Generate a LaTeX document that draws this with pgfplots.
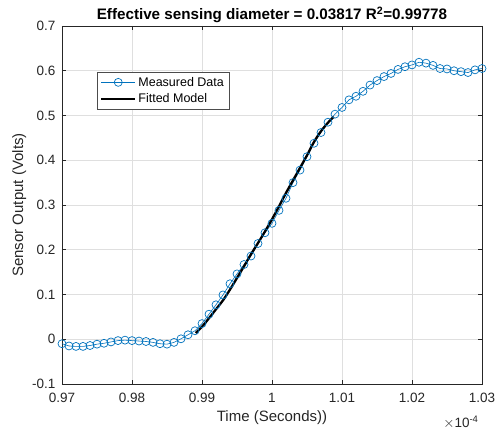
\documentclass[border=0pt]{standalone}
\usepackage{fontspec}
\setmainfont{Liberation Sans}
\usepackage{pgfplots}
\pgfplotsset{compat=1.18}
\definecolor{mblue}{RGB}{0,114,189}
\definecolor{mgrid}{RGB}{223,223,223}
\begin{document}
\begin{tikzpicture}[x=1pt,y=1pt]
\path[use as bounding box] (-62,-49) rectangle (436,384);
\begin{axis}[
  at={(0,0)}, anchor=south west,
  scale only axis, width=420pt, height=358pt,
  xmin=0.97, xmax=1.03, ymin=-0.1, ymax=0.7,
  xtick={0.97,0.98,0.99,1,1.01,1.02,1.03},
  xticklabels={0.97,0.98,0.99,1,1.01,1.02,1.03},
  ytick={-0.1,0,0.1,0.2,0.3,0.4,0.5,0.6,0.7},
  yticklabels={-0.1,0,0.1,0.2,0.3,0.4,0.5,0.6,0.7},
  tick align=inside, tick pos=both,
  major tick length=4pt,
  tick style={black!85, line width=0.5pt},
  axis line style={black!85, line width=0.6pt},
  grid=major, major grid style={mgrid, line width=0.6pt},
  ticklabel style={font=\fontsize{13.5}{15}\selectfont, text=black!85},
  xticklabel style={yshift=-6pt},
  yticklabel style={xshift=-3pt},
  xlabel={Time (Seconds))}, ylabel={Sensor Output (Volts)},
  label style={font=\fontsize{15}{17}\selectfont, text=black!85},
  xlabel style={yshift=-1pt},
  ylabel style={yshift=-1pt},
  title={\textbf{Effective sensing diameter = 0.03817 R\textsuperscript{2}=0.99778}},
  title style={font=\fontsize{15.2}{17}\selectfont, yshift=-6pt},
  legend style={at={(rel axis cs:0.083,0.872)}, anchor=north west,
    font=\fontsize{12.5}{14}\selectfont, draw=black!70, line width=0.5pt,
    inner sep=3pt, row sep=2pt, cells={anchor=west}},
  legend cell align=left,
  legend image code/.code={
    \draw[mark repeat=2,mark phase=2,#1] plot coordinates {(0pt,0pt) (17pt,0pt) (34pt,0pt)};},
  clip=false,
]
\addplot[mblue, line width=0.6pt, mark=o, mark size=4pt, mark options={line width=0.7pt}] coordinates {
(0.970,-0.010) (0.971,-0.015) (0.972,-0.016) (0.973,-0.016) (0.974,-0.014)
(0.975,-0.011) (0.976,-0.009) (0.977,-0.006) (0.978,-0.003) (0.979,-0.002)
(0.980,-0.003) (0.981,-0.004) (0.982,-0.005) (0.983,-0.007) (0.984,-0.010)
(0.985,-0.011) (0.986,-0.007) (0.987,0.001) (0.988,0.010) (0.989,0.019)
(0.990,0.035) (0.991,0.056) (0.992,0.077) (0.993,0.099) (0.994,0.124)
(0.995,0.146) (0.996,0.167) (0.997,0.186) (0.998,0.214) (0.999,0.238)
(1.000,0.259) (1.001,0.288) (1.002,0.315) (1.003,0.350) (1.004,0.378)
(1.005,0.408) (1.006,0.438) (1.007,0.462) (1.008,0.485) (1.009,0.503)
(1.010,0.518) (1.011,0.535) (1.012,0.543) (1.013,0.554) (1.014,0.568)
(1.015,0.578) (1.016,0.587) (1.017,0.594) (1.018,0.603) (1.019,0.609)
(1.020,0.613) (1.021,0.619) (1.022,0.617) (1.023,0.612) (1.024,0.605)
(1.025,0.604) (1.026,0.600) (1.027,0.598) (1.028,0.596) (1.029,0.602)
(1.030,0.605)
};
\addlegendentry{Measured Data}
\addplot[black, line width=2.3pt, smooth] coordinates {
(0.9891,0.014) (0.9900,0.028) (0.9910,0.047) (0.9920,0.067) (0.9930,0.087)
(0.9940,0.111) (0.9950,0.137) (0.9960,0.163) (0.9970,0.190) (0.9980,0.215)
(0.9990,0.241) (1.0000,0.268) (1.0010,0.297) (1.0020,0.327) (1.0030,0.355)
(1.0040,0.383) (1.0050,0.411) (1.0060,0.441) (1.0070,0.465) (1.0080,0.484)
(1.0088,0.497)
};
\addlegendentry{Fitted Model}
\node[anchor=base east, font=\fontsize{13.5}{15}\selectfont, text=black!85] at (rel axis cs:1.0,-0.122) {$\times$10\textsuperscript{-4}};
\end{axis}
\end{tikzpicture}
\end{document}
